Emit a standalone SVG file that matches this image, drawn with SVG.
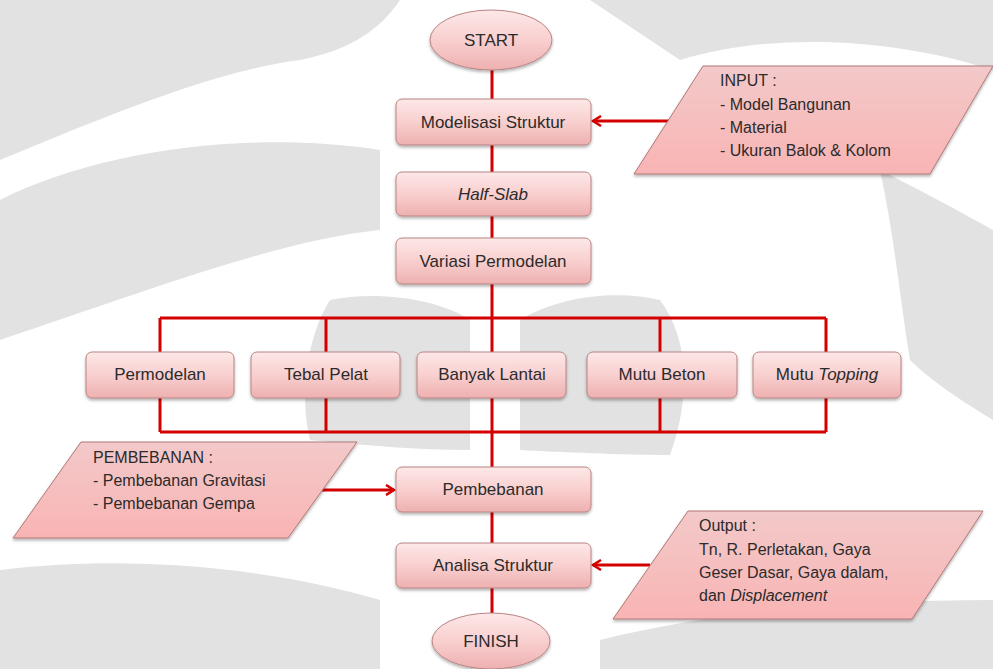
<svg xmlns="http://www.w3.org/2000/svg" width="993" height="669" viewBox="0 0 993 669">
<defs>
<linearGradient id="gBox" x1="0" y1="0" x2="0" y2="1">
<stop offset="0" stop-color="#fde8e8"/>
<stop offset="0.5" stop-color="#f9cfcf"/>
<stop offset="1" stop-color="#eeb0b0"/>
</linearGradient>
<linearGradient id="gPar" x1="0" y1="0" x2="0" y2="1">
<stop offset="0" stop-color="#f3c9c9"/>
<stop offset="1" stop-color="#f9b4b4"/>
</linearGradient>
<filter id="sh" x="-10%" y="-10%" width="130%" height="140%">
<feDropShadow dx="0" dy="2" stdDeviation="1.5" flood-color="#000" flood-opacity="0.3"/>
</filter>
<marker id="arr" markerWidth="12" markerHeight="12" refX="9" refY="6" orient="auto" markerUnits="userSpaceOnUse">
<path d="M1,1 L9,6 L1,11" fill="none" stroke="#d40000" stroke-width="2.5"/>
</marker>
</defs>
<style>
.box{fill:url(#gBox);stroke:#b98484;stroke-width:1;filter:url(#sh)}
.par{fill:url(#gPar);stroke:#b37777;stroke-width:1;filter:url(#sh)}
.lbl{font-family:"Liberation Sans",Arial,sans-serif;font-size:17px;fill:#2b2b2b;text-anchor:middle}
.txt{font-family:"Liberation Sans",Arial,sans-serif;font-size:16px;fill:#2b2b2b}
.ln{stroke:#d40000;stroke-width:3;fill:none}
.wm{fill:#e2e2e2}
</style>
<rect width="993" height="669" fill="#ffffff"/>
<g id="watermark">
<path class="wm" d="M0,0 H400 C380,30 350,50 300,60 C220,70 120,110 0,160 Z"/>
<path class="wm" d="M590,0 H993 V70 C900,40 780,30 680,60 C650,40 620,20 590,0 Z"/>
<path class="wm" d="M0,200 C100,150 250,130 380,150 L380,230 C280,240 150,290 0,340 Z"/>
<path class="wm" d="M880,170 C940,200 993,230 993,230 V420 C960,400 930,380 910,360 C900,300 895,240 880,170 Z"/>
<path class="wm" d="M330,300 C380,290 440,300 470,320 L470,450 C420,450 360,445 310,440 C300,400 305,340 330,300 Z"/>
<path class="wm" d="M520,320 C560,295 620,290 660,300 C690,340 690,400 670,455 C620,455 560,452 520,450 Z"/>
<path class="wm" d="M0,570 C120,555 260,565 380,600 V669 H0 Z"/>
<path class="wm" d="M600,640 C720,610 860,600 993,600 V669 H600 Z"/>
</g>
<g id="connectors">
<line class="ln" x1="492" y1="70" x2="492" y2="99"/>
<line class="ln" x1="492" y1="145" x2="492" y2="172"/>
<line class="ln" x1="492" y1="216" x2="492" y2="238"/>
<line class="ln" x1="492" y1="284" x2="492" y2="318"/>
<path class="ln" d="M160,318 H826 M160,318 V352 M326,318 V352 M492,318 V352 M660,318 V352 M826,318 V352"/>
<path class="ln" d="M160,432 H826 M160,398 V432 M326,398 V432 M492,398 V432 M660,398 V432 M826,398 V432"/>
<line class="ln" x1="492" y1="432" x2="492" y2="467"/>
<line class="ln" x1="492" y1="512" x2="492" y2="543"/>
<line class="ln" x1="492" y1="588" x2="492" y2="613"/>
<line class="ln" x1="669" y1="121" x2="593" y2="121" marker-end="url(#arr)"/>
<line class="ln" x1="322" y1="490" x2="394" y2="490" marker-end="url(#arr)"/>
<line class="ln" x1="650" y1="565" x2="593" y2="565" marker-end="url(#arr)"/>
</g>
<g id="start">
<ellipse class="box" cx="491" cy="40" rx="61" ry="30"/>
<text class="lbl" x="491" y="46">START</text>
</g>
<g id="modelisasi">
<rect class="box" x="396" y="99" width="195" height="46" rx="6"/>
<text class="lbl" x="493" y="128">Modelisasi Struktur</text>
</g>
<g id="halfslab">
<rect class="box" x="396" y="172" width="195" height="44" rx="6"/>
<text class="lbl" x="493" y="200" font-style="italic">Half-Slab</text>
</g>
<g id="variasi">
<rect class="box" x="396" y="238" width="195" height="46" rx="6"/>
<text class="lbl" x="493" y="267">Variasi Permodelan</text>
</g>
<g id="permodelan">
<rect class="box" x="86" y="352" width="148" height="46" rx="6"/>
<text class="lbl" x="160" y="380">Permodelan</text>
</g>
<g id="tebal">
<rect class="box" x="251" y="352" width="149" height="46" rx="6"/>
<text class="lbl" x="326" y="380">Tebal Pelat</text>
</g>
<g id="banyak">
<rect class="box" x="417" y="352" width="149" height="46" rx="6"/>
<text class="lbl" x="492" y="380">Banyak Lantai</text>
</g>
<g id="mutubeton">
<rect class="box" x="587" y="352" width="150" height="46" rx="6"/>
<text class="lbl" x="662" y="380">Mutu Beton</text>
</g>
<g id="mututopping">
<rect class="box" x="753" y="352" width="148" height="46" rx="6"/>
<text class="lbl" x="827" y="380">Mutu <tspan font-style="italic">Topping</tspan></text>
</g>
<g id="pembebanan">
<rect class="box" x="396" y="467" width="195" height="45" rx="6"/>
<text class="lbl" x="493" y="495">Pembebanan</text>
</g>
<g id="analisa">
<rect class="box" x="396" y="543" width="195" height="45" rx="6"/>
<text class="lbl" x="493" y="571">Analisa Struktur</text>
</g>
<g id="finish">
<ellipse class="box" cx="491" cy="641" rx="59" ry="28"/>
<text class="lbl" x="491" y="647">FINISH</text>
</g>
<g id="input">
<polygon class="par" points="703,66 993,66 930,174 634,174"/>
<text class="txt" x="720" y="86">INPUT :</text>
<text class="txt" x="720" y="110">- Model Bangunan</text>
<text class="txt" x="720" y="133">- Material</text>
<text class="txt" x="720" y="156">- Ukuran Balok &amp; Kolom</text>
</g>
<g id="input-beban">
<polygon class="par" points="81,442 357,442 288,538 13,538"/>
<text class="txt" x="93" y="463">PEMBEBANAN :</text>
<text class="txt" x="93" y="486">- Pembebanan Gravitasi</text>
<text class="txt" x="93" y="509">- Pembebanan Gempa</text>
</g>
<g id="output">
<polygon class="par" points="688,511 983,511 912,619 613,619"/>
<text class="txt" x="699" y="531">Output :</text>
<text class="txt" x="699" y="555">Tn, R. Perletakan, Gaya</text>
<text class="txt" x="699" y="578">Geser Dasar, Gaya dalam,</text>
<text class="txt" x="699" y="601">dan <tspan font-style="italic">Displacement</tspan></text>
</g>
</svg>
